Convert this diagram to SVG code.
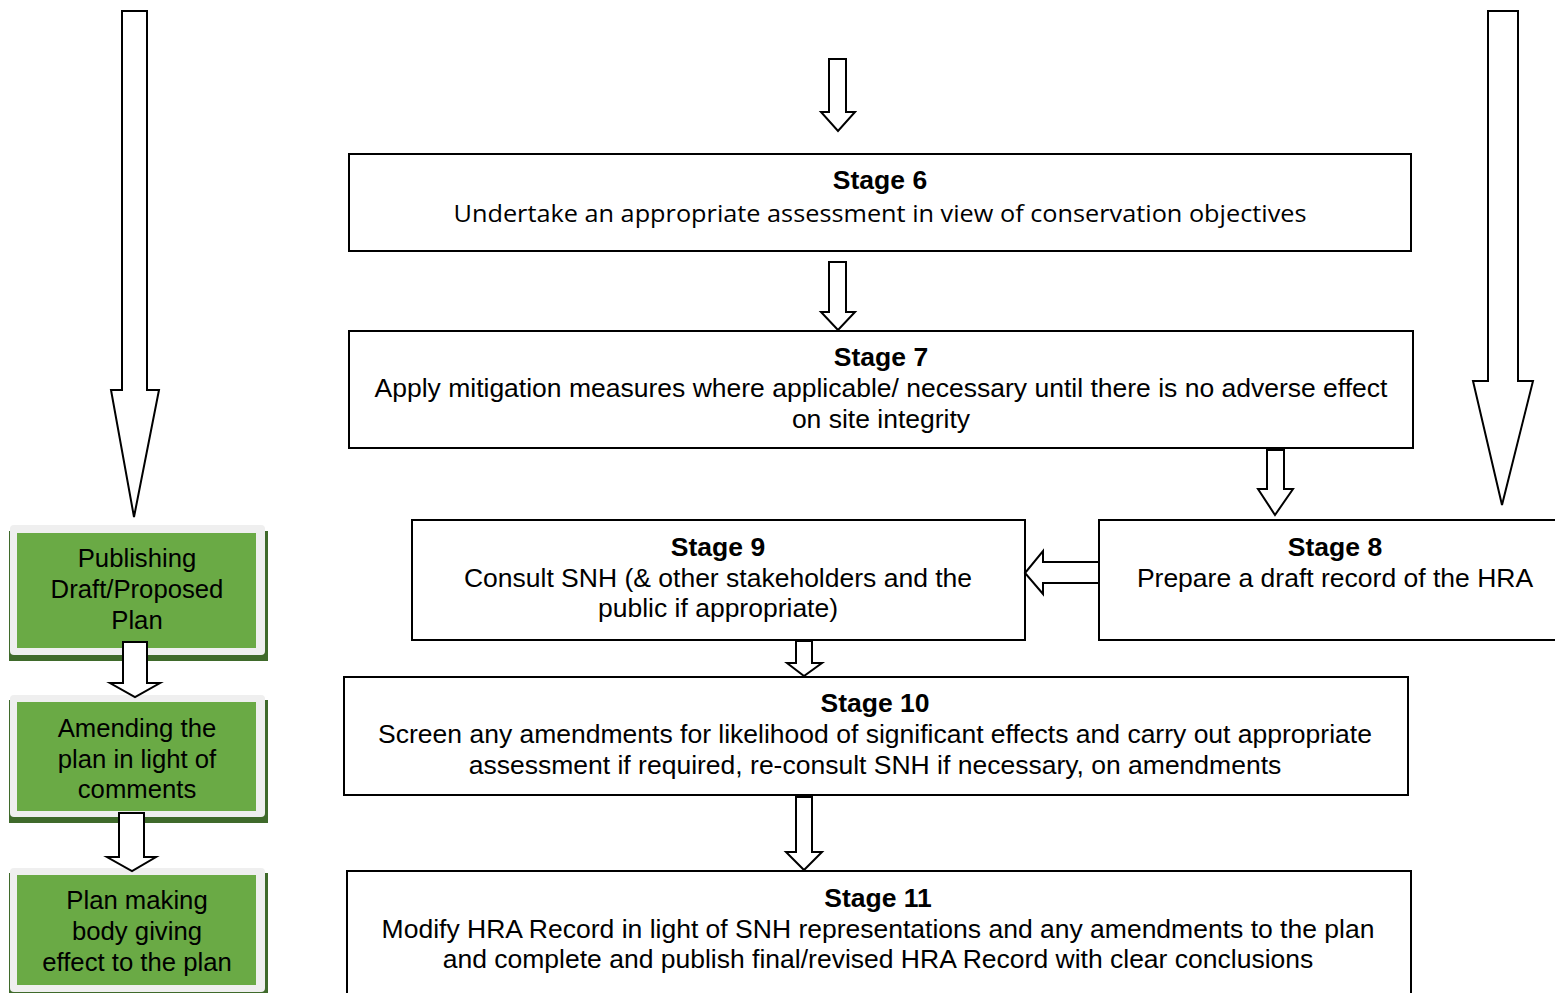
<svg xmlns="http://www.w3.org/2000/svg" width="1555" height="993" viewBox="0 0 1555 993">
<style>
.box{fill:#fff;stroke:#000;stroke-width:2}
.arr{fill:#fff;stroke:#000;stroke-width:2;stroke-linejoin:miter}
.t{font-family:"Liberation Sans",Arial,sans-serif;font-size:26.5px;fill:#000;text-anchor:middle}
.b{font-weight:bold}
.c{font-family:"Open Sans","Noto Sans",sans-serif;font-size:24px;fill:#000;text-anchor:middle}
.g{font-family:"Liberation Sans",Arial,sans-serif;font-size:25.7px;fill:#000;text-anchor:middle}
.shadow{fill:#3f6a2b}
.frame{fill:#efefef}
.green{fill:#6aaa45}
</style>
<rect width="1555" height="993" fill="#fff"/>
<g id="stage6">
  <rect class="box" x="349" y="154" width="1062" height="97"/>
  <text class="t b" x="880" y="189">Stage 6</text>
  <text class="c" x="880" y="222" textLength="853" lengthAdjust="spacingAndGlyphs">Undertake an appropriate assessment in view of conservation objectives</text>
</g>
<g id="stage7">
  <rect class="box" x="349" y="331" width="1064" height="117"/>
  <text class="t b" x="881" y="366">Stage 7</text>
  <text class="t" x="881" y="397">Apply mitigation measures where applicable/ necessary until there is no adverse effect</text>
  <text class="t" x="881" y="428">on site integrity</text>
</g>
<g id="stage8">
  <rect class="box" x="1099" y="520" width="470" height="120"/>
  <text class="t b" x="1335" y="556">Stage 8</text>
  <text class="t" x="1335" y="587">Prepare a draft record of the HRA</text>
</g>
<g id="stage9">
  <rect class="box" x="412" y="520" width="613" height="120"/>
  <text class="t b" x="718" y="556">Stage 9</text>
  <text class="t" x="718" y="587">Consult SNH (&amp; other stakeholders and the</text>
  <text class="t" x="718" y="617">public if appropriate)</text>
</g>
<g id="stage10">
  <rect class="box" x="344" y="677" width="1064" height="118"/>
  <text class="t b" x="875" y="712">Stage 10</text>
  <text class="t" x="875" y="743">Screen any amendments for likelihood of significant effects and carry out appropriate</text>
  <text class="t" x="875" y="774">assessment if required, re-consult SNH if necessary, on amendments</text>
</g>
<g id="stage11">
  <rect class="box" x="347" y="871" width="1064" height="130"/>
  <text class="t b" x="878" y="907">Stage 11</text>
  <text class="t" x="878" y="938">Modify HRA Record in light of SNH representations and any amendments to the plan</text>
  <text class="t" x="878" y="968">and complete and publish final/revised HRA Record with clear conclusions</text>
</g>
<g id="publishing">
  <rect class="shadow" x="9" y="531" width="259" height="130"/>
  <rect class="frame" x="10" y="525" width="255" height="130" rx="4"/>
  <rect class="green" x="17" y="533" width="239" height="115"/>
  <text class="g" x="137" y="567">Publishing</text>
  <text class="g" x="137" y="598">Draft/Proposed</text>
  <text class="g" x="137" y="629">Plan</text>
</g>
<g id="amending">
  <rect class="shadow" x="9" y="700" width="259" height="123"/>
  <rect class="frame" x="10" y="695" width="255" height="122" rx="4"/>
  <rect class="green" x="17" y="702" width="239" height="109"/>
  <text class="g" x="137" y="737">Amending the</text>
  <text class="g" x="137" y="768">plan in light of</text>
  <text class="g" x="137" y="798">comments</text>
</g>
<g id="giving-effect">
  <rect class="shadow" x="9" y="873" width="259" height="125"/>
  <rect class="frame" x="10" y="868" width="255" height="124" rx="4"/>
  <rect class="green" x="17" y="875" width="239" height="110"/>
  <text class="g" x="137" y="909">Plan making</text>
  <text class="g" x="137" y="940">body giving</text>
  <text class="g" x="137" y="971">effect to the plan</text>
</g>
<g id="connectors">
  <polygon class="arr" points="122,11 147,11 147,390 159,390 134,517 111,390 122,390"/>
  <polygon class="arr" points="1488,11 1518,11 1518,381 1533,381 1502,505 1473,381 1488,381"/>
  <polygon class="arr" points="829,59 846,59 846,112 855,112 838,131 821,112 829,112"/>
  <polygon class="arr" points="829,262 846,262 846,312 855,312 838,330 821,312 829,312"/>
  <polygon class="arr" points="1267,450 1284,450 1284,489 1293,489 1275,515 1258,489 1267,489"/>
  <polygon class="arr" points="1099,562 1043,562 1043,551 1025,573 1043,594 1043,583 1099,583"/>
  <polygon class="arr" points="796,641 812,641 812,663 822,663 804,676 787,663 796,663"/>
  <polygon class="arr" points="796,797 812,797 812,852 822,852 804,870 786,852 796,852"/>
  <polygon class="arr" points="123,642 147,642 147,683 160,683 135,697 110,683 123,683"/>
  <polygon class="arr" points="119,813 144,813 144,857 156,857 132,871 107,857 119,857"/>
</g>
</svg>
